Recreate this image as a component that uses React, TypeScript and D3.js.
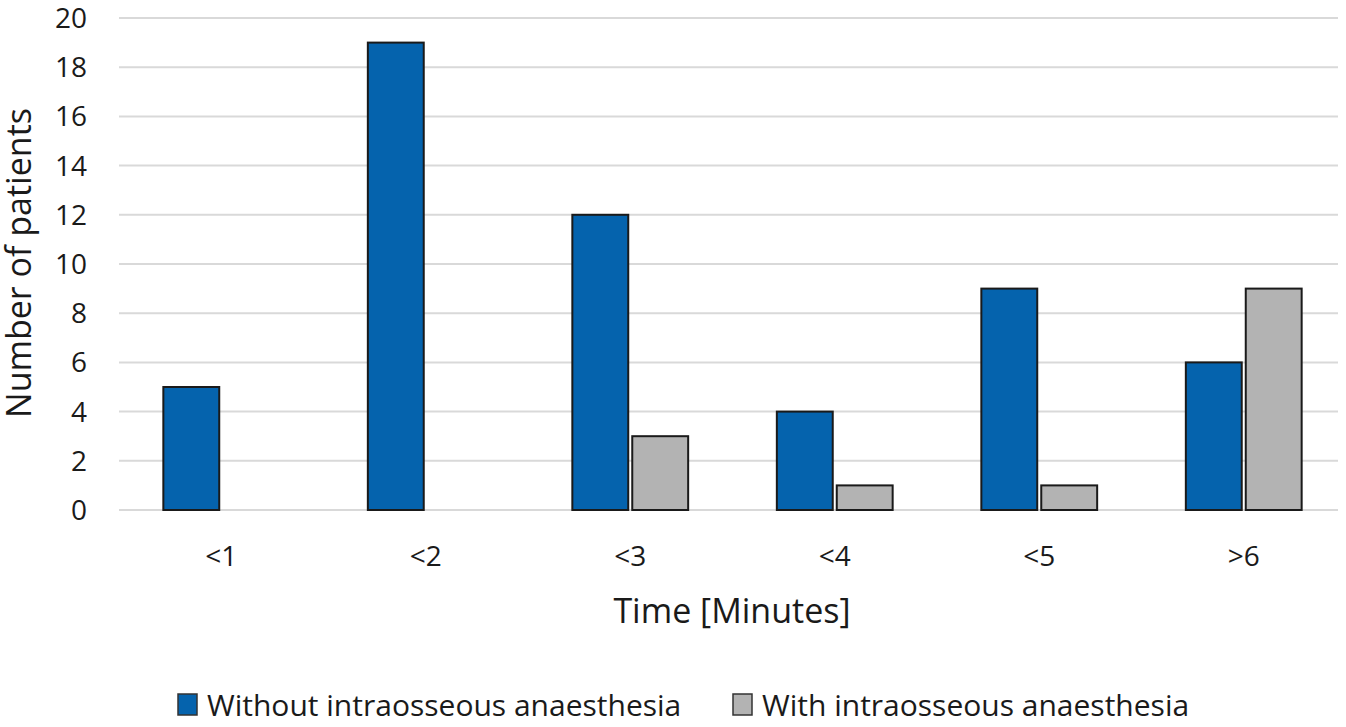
import { useEffect, useRef } from "react";
import * as d3 from "d3";

const categories = ["<1", "<2", "<3", "<4", "<5", ">6"];
const withoutIO = [5, 19, 12, 4, 9, 6];
const withIO = [0, 0, 3, 1, 1, 9];
const yTicks = [0, 2, 4, 6, 8, 10, 12, 14, 16, 18, 20];
const seriesNames = ["Without intraosseous anaesthesia", "With intraosseous anaesthesia"];

const W = 1346;
const H = 727;
const FONT = "'Open Sans', sans-serif";

export default function App() {
  const ref = useRef<SVGSVGElement | null>(null);

  useEffect(() => {
    if (!ref.current) return;
    const svg = d3.select(ref.current);
    svg.selectAll("*").remove();

    const left = 119;
    const right = 1346;
    const top = 18;
    const bottom = 510;

    const x = d3.scaleBand(categories, [left, right]);
    const inner = d3
      .scaleBand(["a", "b"], [0, x.bandwidth()])
      .paddingInner(0.067)
      .paddingOuter(0.74);
    const y = d3.scaleLinear([0, 20], [bottom, top]);

    // gridlines
    svg
      .append("g")
      .selectAll("line")
      .data(yTicks)
      .join("line")
      .attr("x1", left)
      .attr("x2", right - 8)
      .attr("y1", (d) => y(d))
      .attr("y2", (d) => y(d))
      .attr("stroke", "#d9d9d9")
      .attr("stroke-width", 2);

    // y tick labels
    svg
      .append("g")
      .selectAll("text")
      .data(yTicks)
      .join("text")
      .attr("x", 87)
      .attr("y", (d) => y(d))
      .attr("dy", "0.36em")
      .attr("text-anchor", "end")
      .attr("font-family", FONT)
      .attr("font-size", 28)
      .attr("fill", "#1a1a1a")
      .text((d) => d);

    const rows = categories.map((c, i) => ({ c, a: withoutIO[i], b: withIO[i] }));

    const groups = svg
      .append("g")
      .selectAll("g")
      .data(rows)
      .join("g")
      .attr("transform", (d) => `translate(${x(d.c)},0)`);

    groups
      .filter((d) => d.a > 0)
      .append("rect")
      .attr("x", inner("a") ?? 0)
      .attr("width", inner.bandwidth())
      .attr("y", (d) => y(d.a))
      .attr("height", (d) => y(0) - y(d.a))
      .attr("fill", "#0563ad")
      .attr("stroke", "#1a1a1a")
      .attr("stroke-width", 2);

    groups
      .filter((d) => d.b > 0)
      .append("rect")
      .attr("x", inner("b") ?? 0)
      .attr("width", inner.bandwidth())
      .attr("y", (d) => y(d.b))
      .attr("height", (d) => y(0) - y(d.b))
      .attr("fill", "#b3b3b3")
      .attr("stroke", "#1a1a1a")
      .attr("stroke-width", 2);

    // x labels
    svg
      .append("g")
      .selectAll("text")
      .data(categories)
      .join("text")
      .attr("x", (d) => (x(d) ?? 0) + x.bandwidth() / 2)
      .attr("y", 566)
      .attr("text-anchor", "middle")
      .attr("font-family", FONT)
      .attr("font-size", 28)
      .attr("fill", "#1a1a1a")
      .text((d) => d);

    svg
      .append("text")
      .attr("x", 732)
      .attr("y", 623)
      .attr("text-anchor", "middle")
      .attr("font-family", FONT)
      .attr("font-size", 34)
      .attr("fill", "#1a1a1a")
      .text("Time [Minutes]");

    svg
      .append("text")
      .attr("transform", `translate(31,263) rotate(-90)`)
      .attr("text-anchor", "middle")
      .attr("font-family", FONT)
      .attr("font-size", 34)
      .attr("fill", "#1a1a1a")
      .text("Number of patients");

    // legend
    const legendX = [178, 733];
    const colors = ["#0563ad", "#b3b3b3"];
    const legend = svg
      .append("g")
      .selectAll("g")
      .data(seriesNames)
      .join("g")
      .attr("transform", (_, i) => `translate(${legendX[i]},694)`);
    legend
      .append("rect")
      .attr("width", 19)
      .attr("height", 21)
      .attr("fill", (_, i) => colors[i])
      .attr("stroke", "#333")
      .attr("stroke-width", 1.5);
    legend
      .append("text")
      .attr("x", 29)
      .attr("y", 22)
      .attr("font-family", FONT)
      .attr("font-size", 30)
      .attr("fill", "#1a1a1a")
      .text((d) => d);
  }, []);

  return (
    <svg
      ref={ref}
      width={W}
      height={H}
      style={{ position: "absolute", left: 0, top: 0, background: "#fff" }}
    />
  );
}
